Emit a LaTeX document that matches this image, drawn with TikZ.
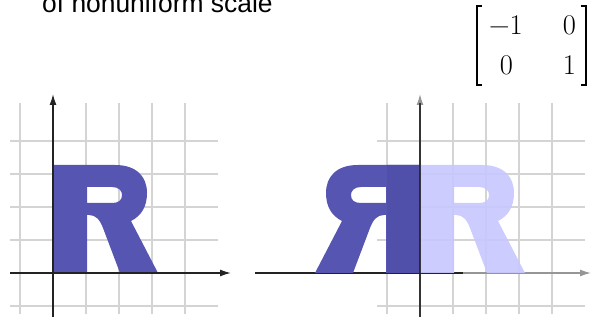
\documentclass[tikz,border=0pt]{standalone}
\usepackage{fontspec}
\usepackage{graphicx}
\usetikzlibrary{arrows.meta}
\newfontfamily\arialfont{Liberation Sans}
\definecolor{rdark}{RGB}{86,86,178}
\definecolor{rdarker}{RGB}{80,80,170}
\definecolor{rlight}{RGB}{200,200,255}
\definecolor{gridc}{RGB}{212,212,212}
\definecolor{axisc}{RGB}{35,35,35}
\definecolor{axisg}{RGB}{150,150,150}
\tikzset{
  gridline/.style={draw=gridc, line width=1.3pt},
  axisline/.style={draw=axisc, line width=1.4pt},
  axisgray/.style={draw=axisg, line width=1.4pt},
  arrowtip/.style={-{Latex[length=11pt,width=7pt]}},
  entry/.style={inner sep=0pt, anchor=base, font=\fontsize{28.5}{33}\selectfont},
  bracketline/.style={draw=black, line width=2pt},
  rshape/.pic={
    \fill[even odd rule, pic actions]
      (0,0) -- (0,-108) -- (62,-108)
      .. controls (84,-108) and (94,-96) .. (94,-80)
      .. controls (94,-66) and (88,-57) .. (78,-52)
      -- (105,0) -- (67,0) -- (50,-45)
      .. controls (47,-53) and (43,-58) .. (36,-58)
      -- (34,-58) -- (34,0) -- cycle
      (34,-86) -- (59,-86)
      .. controls (66,-86) and (69,-82) .. (69,-78)
      .. controls (69,-73) and (66,-70) .. (59,-70)
      -- (34,-70) -- cycle;
  },
}
\begin{document}
\begin{tikzpicture}[x=1pt,y=-1pt]
\useasboundingbox (0,0) rectangle (592,320);
% title
\node[anchor=base west, inner sep=0pt, font=\arialfont\fontsize{26.4}{30}\selectfont] (title) at (42,13) {of nonuniform scale};
% matrix
\node[entry] (m11) at (506,35) {−1};
\node[entry] (m12) at (569.5,35) {0};
\node[entry] (m21) at (506.5,75) {0};
\node[entry] (m22) at (569.5,75) {1};
\coordinate (bl1) at (482,6.5); \coordinate (bl2) at (476.5,6.5);
\coordinate (bl3) at (476.5,85.5); \coordinate (bl4) at (482,85.5);
\coordinate (br1) at (580.5,6.5); \coordinate (br2) at (586,6.5);
\coordinate (br3) at (586,85.5); \coordinate (br4) at (580.5,85.5);
\draw[bracketline] (bl1) -- (bl2) -- (bl3) -- (bl4);
\draw[bracketline] (br1) -- (br2) -- (br3) -- (br4);
% left grid
\foreach \x in {20,53,86,119,152,185} \draw[gridline] (\x,103) -- (\x,314);
\foreach \y in {141,174,207,240,273,306} \draw[gridline] (10,\y) -- (218,\y);
% left R
\pic[fill=rdark] (R1) at (53,273) {rshape};
% left axes
\coordinate (lxa) at (10,273); \coordinate (lxb) at (231,273);
\coordinate (lya) at (53,317); \coordinate (lyb) at (53,94);
\draw[axisline, arrowtip] (lxa) -- (lxb);
\draw[axisline, arrowtip] (lya) -- (lyb);
% right grid
\foreach \x in {387,420,453,486,519,552} \draw[gridline] (\x,103) -- (\x,314);
\foreach \y in {141,174,207,240,273,306} \draw[gridline] (377,\y) -- (585,\y);
% right axes
\coordinate (rxa) at (377,273); \coordinate (rxb) at (591,273);
\coordinate (rya) at (420,317); \coordinate (ryb) at (420,94);
\draw[axisgray, arrowtip] (rxa) -- (rxb);
\draw[axisgray, arrowtip] (rya) -- (ryb);
\coordinate (bxa) at (255,273); \coordinate (bxb) at (463,273);
\coordinate (bya) at (420,317); \coordinate (byb) at (420,103);
\draw[axisline] (bxa) -- (bxb);
% right Rs
\pic[fill=rlight, fill opacity=0.92] (R2) at (420,273) {rshape};
\pic[fill=rdark, xscale=-1] (R3) at (420,273) {rshape};
\begin{scope}
  \clip (387,150) rectangle (420,274);
  \pic[fill=rdarker, xscale=-1] (R3b) at (420,273) {rshape};
\end{scope}
\draw[axisline, opacity=0.85] (bya) -- (byb);
\end{tikzpicture}
\end{document}
